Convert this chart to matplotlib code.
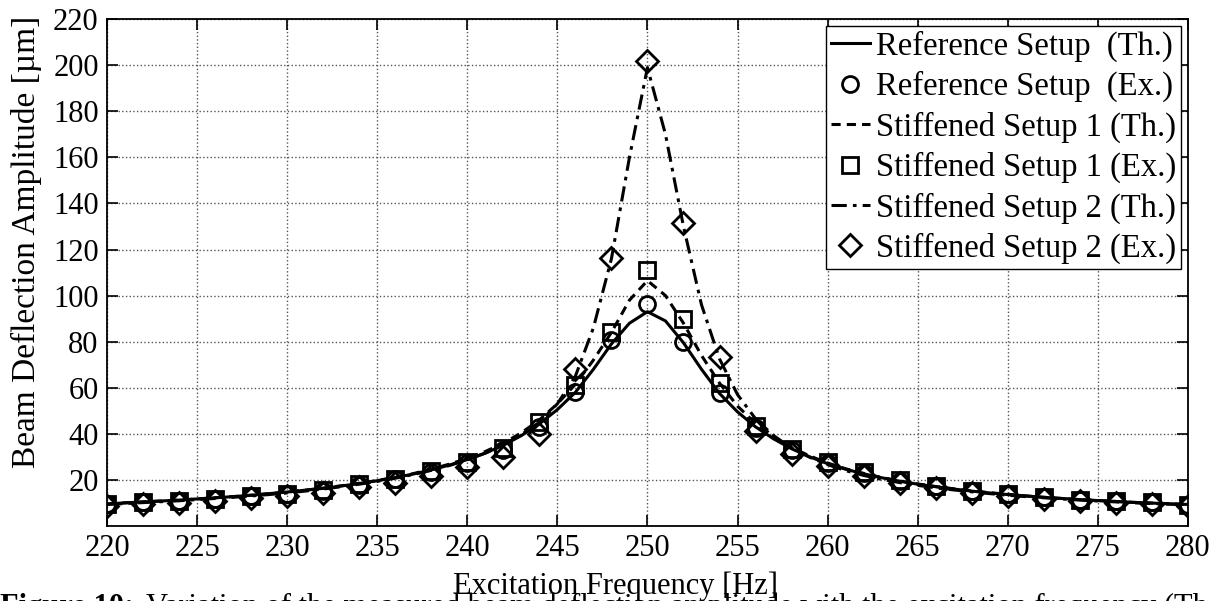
import matplotlib.pyplot as plt

# Measured points (every 2 Hz)
freq_ex = [220, 222, 224, 226, 228, 230, 232, 234, 236, 238, 240, 242, 244, 246, 248,
           250, 252, 254, 256, 258, 260, 262, 264, 266, 268, 270, 272, 274, 276, 278, 280]
ref_ex = [9.6, 10.4, 10.9, 11.6, 12.8, 13.8, 15.3, 17.9, 20.2, 23.5, 27.3, 33.0, 43.0, 58.0, 80.5,
          96.5, 80.0, 57.5, 42.5, 33.0, 27.4, 23.0, 19.7, 17.4, 15.0, 13.9, 12.5, 11.3, 10.6, 10.2, 9.1]
st1_ex = [9.6, 10.5, 11.0, 11.7, 12.9, 13.9, 15.5, 18.0, 20.4, 23.8, 27.8, 34.0, 45.0, 61.0, 84.0,
          111.0, 90.0, 62.0, 43.5, 33.5, 27.6, 23.2, 19.8, 17.5, 15.1, 14.0, 12.6, 11.4, 10.7, 10.3, 9.2]
st2_ex = [8.8, 9.6, 10.0, 10.8, 11.9, 12.8, 14.3, 16.7, 18.6, 21.5, 25.5, 30.0, 40.0, 68.0, 116.5,
          202.0, 131.5, 73.5, 41.0, 31.0, 26.0, 21.8, 18.8, 16.4, 14.2, 13.1, 11.8, 10.6, 10.0, 9.6, 8.6]

# Theoretical curves (every 1 Hz)
freq_th = list(range(220, 281))
ref_th = [9.5, 10.0, 10.4, 10.8, 11.2, 11.7, 12.2, 12.7, 13.3, 14.0, 14.7, 15.5, 16.3, 17.3, 18.4,
          19.6, 21.0, 22.5, 24.3, 26.4, 28.8, 31.6, 35.0, 39.2, 44.3, 50.5, 58.0, 68.0, 79.0, 88.0,
          93.0, 89.0, 79.5, 68.0, 57.5, 49.5, 43.0, 37.8, 33.5, 30.0, 27.0, 24.6, 22.6, 20.9, 19.4,
          18.1, 17.0, 16.0, 15.1, 14.3, 13.6, 13.0, 12.4, 11.9, 11.4, 11.0, 10.6, 10.2, 9.9, 9.6, 9.3]
st1_th = [9.5, 10.0, 10.4, 10.8, 11.2, 11.7, 12.2, 12.7, 13.3, 14.0, 14.7, 15.5, 16.4, 17.4, 18.5,
          19.7, 21.1, 22.7, 24.6, 26.8, 29.3, 32.3, 35.9, 40.4, 46.0, 53.0, 61.5, 72.0, 84.0, 98.0,
          106.5, 100.0, 88.0, 74.0, 62.0, 52.0, 44.5, 38.6, 34.0, 30.4, 27.3, 24.8, 22.8, 21.0, 19.5,
          18.2, 17.1, 16.1, 15.2, 14.4, 13.7, 13.0, 12.4, 11.9, 11.4, 11.0, 10.6, 10.2, 9.9, 9.6, 9.3]
st2_th = [9.3, 9.7, 10.1, 10.5, 10.9, 11.4, 11.9, 12.4, 13.0, 13.6, 14.3, 15.1, 16.0, 17.0, 18.1,
          19.3, 20.7, 22.3, 24.1, 26.2, 28.7, 31.6, 35.2, 39.6, 45.0, 53.0, 65.0, 86.0, 116.0, 160.0,
          199.0, 170.0, 130.0, 96.0, 72.5, 57.0, 46.5, 39.2, 33.8, 29.8, 26.6, 24.0, 21.9, 20.2, 18.8,
          17.6, 16.5, 15.6, 14.8, 14.0, 13.3, 12.7, 12.2, 11.7, 11.2, 10.8, 10.4, 10.0, 9.7, 9.4, 9.1]

xticks = list(range(220, 281, 5))
yticks = list(range(20, 221, 20))

plt.rcParams['font.family'] = ['Liberation Serif', 'DejaVu Serif']

fig = plt.figure(figsize=(12.2, 6.01), dpi=100)
ax = fig.add_axes([0.0877, 0.125, 0.886, 0.843])

lw = 2.2
mk = dict(linestyle='none', markerfacecolor='none', markeredgecolor='black', markeredgewidth=2.0)

ax.plot(freq_th, ref_th, '-', color='black', lw=lw, label='Reference Setup  (Th.)')
ax.plot(freq_ex, ref_ex, marker='o', markersize=11.5, label='Reference Setup  (Ex.)', **mk)
ax.plot(freq_th, st1_th, '--', color='black', lw=lw, dashes=(3, 2), label='Stiffened Setup 1 (Th.)')
ax.plot(freq_ex, st1_ex, marker='s', markersize=11, label='Stiffened Setup 1 (Ex.)', **mk)
ax.plot(freq_th, st2_th, '-.', color='black', lw=lw, dashes=(5, 2, 1.2, 2), label='Stiffened Setup 2 (Th.)')
ax.plot(freq_ex, st2_ex, marker='D', markersize=11, label='Stiffened Setup 2 (Ex.)', **mk)

ax.set_xlim(220, 280)
ax.set_ylim(0, 220)
ax.set_xticks(xticks)
ax.set_yticks(yticks)
ax.tick_params(direction='in', length=8, width=1.2, top=True, right=True, labelsize=22, pad=6)
ax.grid(True, linestyle=':', color='#555555', linewidth=1.0)
for s in ax.spines.values():
    s.set_linewidth(1.3)

ax.set_xlabel('Excitation Frequency [Hz]', fontsize=22)
ax.xaxis.set_label_coords(0.47, -0.09)
ax.set_ylabel('Beam Deflection Amplitude [µm]', fontsize=24)
ax.yaxis.set_label_coords(-0.06, 0.56)

leg = ax.legend(loc='upper right', fontsize=23.5, frameon=True, fancybox=False, framealpha=1,
                edgecolor='black', handlelength=1.2, handletextpad=0.2, borderpad=0.15,
                labelspacing=0.28, borderaxespad=0.2)
leg.get_frame().set_linewidth(1.0)

# caption of the source figure, mostly cut off by the bottom edge
fig.text(0.0, 1 - 593 / 601, 'Figure 10:', fontsize=22, fontweight='bold', va='top', ha='left')
fig.text(0.12, 1 - 593 / 601,
         'Variation of the measured beam deflection amplitude with the excitation frequency (Th.',
         fontsize=22, va='top', ha='left')

fig.savefig('out.png', dpi=100)
